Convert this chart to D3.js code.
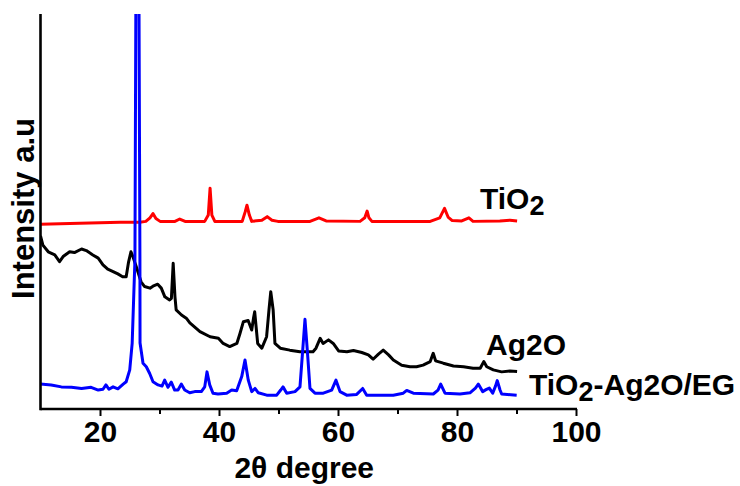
<!DOCTYPE html>
<html>
<head>
<meta charset="utf-8">
<script src="https://cdn.jsdelivr.net/npm/d3@7"></script>
<style>
  html, body { margin: 0; padding: 0; background: #fff; }
  svg { display: block; }
  text { font-family: "Liberation Sans", Arial, sans-serif; font-weight: bold; fill: #000; }
</style>
</head>
<body>
<svg id="chart" width="740" height="486"></svg>
<script>
// XRD patterns: [2θ (degree), intensity (a.u.)]
const tio2 = [
  [10.0, 46.8], [16.6, 47.0], [23.4, 47.3], [26.7, 47.3], [27.7, 47.5], [28.4, 48.4],
  [28.9, 49.5], [29.4, 48.2], [30.1, 47.5], [32.6, 47.5], [33.4, 48.1], [34.3, 47.5],
  [37.6, 47.5], [38.2, 49.1], [38.5, 55.9], [38.8, 49.1], [39.3, 47.5], [43.9, 47.5],
  [44.4, 49.9], [44.7, 51.6], [45.1, 49.1], [45.5, 47.5], [47.2, 47.8], [48.1, 48.7],
  [48.9, 47.8], [49.9, 47.5], [55.3, 47.5], [56.8, 48.4], [58.0, 47.6], [63.7, 47.5],
  [64.5, 48.4], [64.9, 50.1], [65.2, 48.4], [65.7, 47.5], [75.5, 47.5], [77.1, 48.4],
  [77.9, 50.8], [78.5, 48.6], [79.2, 47.7], [80.8, 47.6], [82.0, 48.4], [82.7, 47.5],
  [87.2, 47.6], [88.9, 47.8], [90.1, 47.6]
];

const ag2o = [
  [10.0, 43.8], [10.4, 41.5], [11.3, 39.8], [12.4, 39.0], [13.2, 37.3], [13.8, 38.6],
  [14.9, 39.8], [15.7, 39.6], [16.9, 40.5], [17.7, 40.1], [18.8, 39.0], [19.7, 38.2],
  [20.5, 36.5], [21.3, 35.4], [22.2, 34.8], [23.0, 34.2], [23.8, 33.5], [24.4, 33.5],
  [24.8, 37.2], [25.2, 39.8], [25.5, 38.7], [26.1, 36.0], [26.9, 32.2], [27.5, 31.0],
  [28.4, 30.6], [28.9, 31.1], [29.7, 31.6], [30.3, 30.6], [30.9, 28.4], [31.7, 27.6],
  [32.0, 28.0], [32.3, 36.9], [32.6, 28.4], [32.8, 25.1], [33.7, 23.8], [34.5, 23.0],
  [35.1, 21.8], [36.8, 19.6], [38.5, 18.3], [39.9, 17.9], [40.7, 16.6], [41.8, 15.8],
  [43.0, 16.6], [43.5, 19.0], [44.1, 22.1], [44.9, 22.4], [45.5, 20.0], [45.8, 23.0],
  [46.0, 24.6], [46.5, 16.6], [47.2, 15.4], [48.0, 18.3], [48.4, 25.1], [48.7, 29.7],
  [49.1, 25.1], [49.4, 16.6], [50.3, 15.4], [51.9, 14.9], [53.6, 14.5], [55.8, 14.5],
  [56.3, 15.4], [57.0, 17.9], [57.5, 16.6], [58.4, 17.5], [59.2, 16.6], [60.1, 14.7],
  [61.5, 14.5], [62.6, 14.8], [64.0, 14.3], [65.1, 13.7], [65.9, 12.6], [66.8, 13.9],
  [67.6, 14.9], [68.5, 13.7], [69.3, 12.4], [70.7, 11.1], [72.1, 10.7], [73.2, 10.7],
  [74.3, 11.1], [75.5, 12.0], [76.0, 14.1], [76.4, 12.2], [77.7, 11.6], [79.4, 10.9],
  [81.1, 10.7], [82.7, 10.3], [83.9, 10.3], [84.5, 12.0], [85.0, 10.7], [86.1, 9.9],
  [87.5, 9.4], [88.9, 9.6], [90.1, 9.5]
];

const composite = [
  [10.0, 6.3], [11.8, 6.1], [13.5, 5.6], [15.2, 5.5], [16.9, 5.2], [18.5, 5.5],
  [19.7, 4.8], [20.5, 5.0], [21.0, 6.1], [21.5, 5.0], [22.2, 5.6], [23.0, 5.1],
  [23.9, 6.3], [24.4, 6.9], [25.0, 9.9], [25.41, 16.7], [25.87, 37.7], [26.29, 212.4],
  [26.71, 37.7], [26.73, 16.7], [27.23, 11.6], [27.78, 10.7], [28.35, 9.0], [28.91, 6.9],
  [29.75, 6.1], [30.42, 5.8], [30.87, 7.3], [31.43, 5.5], [31.98, 6.8], [32.55, 4.8],
  [33.11, 4.8], [33.66, 6.3], [34.24, 4.8], [35.08, 4.1], [35.92, 4.4], [37.03, 4.4],
  [37.6, 5.6], [37.98, 9.4], [38.44, 6.1], [38.99, 4.0], [39.83, 3.8], [41.29, 4.0],
  [42.13, 4.8], [42.97, 4.6], [43.82, 8.2], [44.37, 12.4], [44.92, 7.3], [45.5, 4.4],
  [46.05, 5.2], [46.61, 4.1], [48.02, 3.5], [49.7, 3.5], [50.37, 4.8], [50.76, 5.6],
  [51.38, 4.0], [52.77, 4.4], [53.61, 5.6], [54.07, 14.9], [54.45, 22.7], [54.84, 14.9],
  [55.29, 5.2], [56.13, 4.0], [57.53, 4.0], [58.94, 4.8], [59.66, 7.3], [60.34, 4.4],
  [61.46, 3.5], [63.14, 3.7], [64.15, 5.2], [64.82, 3.5], [67.06, 3.5], [69.29, 3.5],
  [70.97, 4.0], [71.55, 4.7], [72.66, 4.0], [76.02, 3.8], [76.81, 4.8], [77.26, 6.3],
  [77.98, 4.0], [80.5, 3.8], [82.18, 4.1], [83.1, 5.3], [83.58, 6.3], [84.32, 4.4],
  [84.87, 4.9], [85.43, 5.3], [86.0, 4.0], [86.47, 5.8], [86.77, 7.2], [87.23, 4.8],
  [87.51, 3.8], [90.03, 3.5]
];

const majorTicks = [20, 40, 60, 80, 100];
const minorTicks = [30, 50, 70, 90];
const xDomain = [10, 100];
const yDomain = [0, 100];

const svg = d3.select("#chart");
const M = { left: 40.5, right: 576, top: 14, bottom: 409 };

const x = d3.scaleLinear().domain(xDomain).range([M.left, M.right]);
const y = d3.scaleLinear().domain(yDomain).range([M.bottom, M.top]);

svg.append("clipPath").attr("id", "plotClip")
  .append("rect").attr("x", M.left).attr("y", M.top)
  .attr("width", M.right - M.left + 10).attr("height", M.bottom - M.top);

const line = d3.line().x(d => x(d[0])).y(d => y(d[1]));

const plot = svg.append("g").attr("clip-path", "url(#plotClip)");
[[tio2, "#ff0000"], [ag2o, "#000000"], [composite, "#0000ff"]].forEach(([data, color]) => {
  plot.append("path").datum(data)
    .attr("d", line)
    .attr("fill", "none")
    .attr("stroke", color)
    .attr("stroke-width", 3)
    .attr("stroke-linejoin", "round");
});

// bottom axis with labelled major ticks and unlabelled minor ticks
const xAxis = d3.axisBottom(x).tickValues(majorTicks).tickSize(7).tickPadding(5)
  .tickFormat(d3.format("d"));
const gx = svg.append("g").attr("transform", `translate(0,${M.bottom})`).call(xAxis);
gx.select(".domain").remove();
gx.selectAll(".tick line").attr("stroke", "#000").attr("stroke-width", 2);
gx.selectAll(".tick text").style("font-size", "30px").attr("fill", "#000")
  .style("font-family", '"Liberation Sans", Arial, sans-serif').style("font-weight", "bold");

const gxm = svg.append("g").attr("transform", `translate(0,${M.bottom})`)
  .call(d3.axisBottom(x).tickValues(minorTicks).tickSize(5).tickFormat(""));
gxm.select(".domain").remove();
gxm.selectAll(".tick line").attr("stroke", "#000").attr("stroke-width", 2);

// axis frame lines
svg.append("line").attr("x1", M.left).attr("x2", M.right + 1)
  .attr("y1", M.bottom).attr("y2", M.bottom)
  .attr("stroke", "#000").attr("stroke-width", 2.6);
svg.append("line").attr("x1", M.left).attr("x2", M.left)
  .attr("y1", M.top).attr("y2", M.bottom + 1.3)
  .attr("stroke", "#000").attr("stroke-width", 2.6);

// axis titles
svg.append("text").attr("x", (M.left + M.right) / 2 - 4).attr("y", 478)
  .attr("text-anchor", "middle").style("font-size", "30px")
  .text("2θ degree");

svg.append("text")
  .attr("transform", `translate(34,${(M.top + M.bottom) / 2 - 3}) rotate(-90)`)
  .attr("text-anchor", "middle").style("font-size", "31px")
  .text("Intensity a.u");

// series labels
function label(xp, yp, parts) {
  const t = svg.append("text").attr("x", xp).attr("y", yp).style("font-size", "30px");
  parts.forEach(p => {
    const s = t.append("tspan").text(p.t);
    if (p.sub) s.style("font-size", "27px").attr("dy", 6);
    if (p.up) s.attr("dy", -6);
  });
}
label(480, 209, [{ t: "TiO" }, { t: "2", sub: true }]);
label(486, 355, [{ t: "Ag2O" }]);
label(529, 395, [{ t: "TiO" }, { t: "2", sub: true }, { t: "-Ag2O/EG", up: true }]);
</script>
</body>
</html>
